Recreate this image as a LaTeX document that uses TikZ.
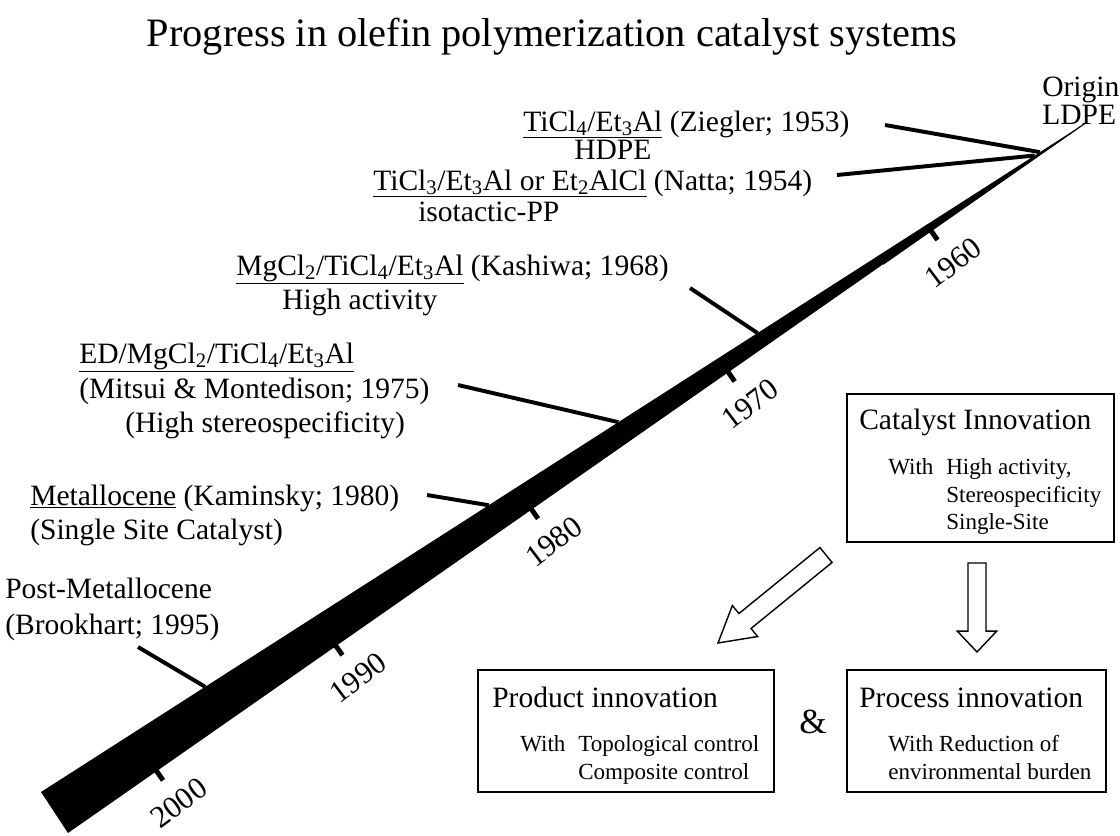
\documentclass[tikz,border=0pt]{standalone}
\usepackage{fontspec}
\setmainfont{Liberation Serif}
\usetikzlibrary{calc,fit,positioning}
\tikzset{every node/.append style={inner sep=0pt}}
\tikzset{
  lbl/.style={font=\fontsize{21}{25}\selectfont, anchor=base west},
  boxtxt/.style={font=\fontsize{16.4}{19}\selectfont, anchor=base west},
  leader/.style={line width=2.8pt},
  yearlbl/.style={font=\fontsize{22}{24}\selectfont, rotate=37},
  innobox/.style={draw, line width=1pt},
  hollow/.style={draw, line width=1pt, fill=white, line join=miter}
}
\newcommand{\chsub}[1]{\textsubscript{#1}}

\begin{document}
\begin{tikzpicture}[x=0.025cm, y=-0.025cm]
  \useasboundingbox (0,0) rectangle (1120,836);

  \node[font=\fontsize{28.7}{32}\selectfont, anchor=base] (title) at (552,46)
    {Progress in olefin polymerization catalyst systems};

  % the time bar
  \coordinate (tip) at (1087,122);
  \coordinate (ul) at (41,792);
  \coordinate (ll) at (68,833);
  \fill (tip) -- (ul) -- (ll) -- cycle;
  \draw[line width=0.8pt] (tip) -- ($(tip)!0.2!(ll)$);

  \foreach \yr/\f in {1960/0.153, 1970/0.352, 1980/0.545, 1990/0.737, 2000/0.913}{
    \coordinate (t\yr) at ($(tip)!\f!(ll)$);
    \draw[line width=3.5pt] ($(t\yr)!0.05cm!90:(tip)$) -- ($(t\yr)!0.28cm!-90:(tip)$);
    \node[yearlbl] (y\yr) at ($(t\yr)!0.97cm!-90:(tip)$) {\yr};
  }

  % leaders from the labels to the bar
  \foreach \nm/\x/\y/\f in {zg/885/125/0.045, nt/837/175/0.05, ks/690/288/0.315,
                            mt/458/385/0.448, km/427/495/0.572, bk/138/647/0.843}{
    \coordinate (\nm) at (\x,\y);
    \coordinate (\nm b) at ($(tip)!\f!(ul)$);
    \draw[leader] (\nm) -- (\nm b);
  }

  \node[lbl] (orig) at (1042,96) {Origin};
  \node[lbl] (ldpe) at (1042,124) {LDPE};
  \node[lbl] (zieg) at (523,131) {\underline{TiCl\chsub{4}/Et\chsub{3}Al} (Ziegler; 1953)};
  \node[lbl] (hdpe) at (574,159) {HDPE};
  \node[lbl] (natta) at (373,190) {\underline{TiCl\chsub{3}/Et\chsub{3}Al or Et\chsub{2}AlCl} (Natta; 1954)};
  \node[lbl] (ipp) at (418,221) {isotactic-PP};
  \node[lbl] (kash) at (236,275) {\underline{MgCl\chsub{2}/TiCl\chsub{4}/Et\chsub{3}Al} (Kashiwa; 1968)};
  \node[lbl] (hact) at (282,309) {High activity};
  \node[lbl] (edmg) at (79,363) {\underline{ED/MgCl\chsub{2}/TiCl\chsub{4}/Et\chsub{3}Al}};
  \node[lbl] (mits) at (79,398) {(Mitsui \& Montedison; 1975)};
  \node[lbl] (hster) at (125,432) {(High stereospecificity)};
  \node[lbl] (metal) at (30,505) {\underline{Metallocene} (Kaminsky; 1980)};
  \node[lbl] (ssc) at (30,539) {(Single Site Catalyst)};
  \node[lbl] (post) at (5,598) {Post-Metallocene};
  \node[lbl] (brook) at (5,634) {(Brookhart; 1995)};

  % innovation boxes
  \node[innobox, fit={(847,394) (1114,542)}] (catbox) {};
  \node[innobox, fit={(478,670) (774,792)}] (prodbox) {};
  \node[innobox, fit={(847,670) (1106,792)}] (procbox) {};

  \node[lbl] (cattitle) at (859,429) {Catalyst Innovation};
  \node[boxtxt] (catwith) at (888,474) {With};
  \node[boxtxt] (cat1) at (946,474) {High activity,};
  \node[boxtxt] (cat2) at (946,502) {Stereospecificity};
  \node[boxtxt] (cat3) at (946,529) {Single-Site};

  \node[lbl] (prodtitle) at (492,707) {Product innovation};
  \node[boxtxt] (prodwith) at (520,751) {With};
  \node[boxtxt] (prod1) at (578,751) {Topological control};
  \node[boxtxt] (prod2) at (578,779) {Composite control};

  \node[lbl] (proctitle) at (859,707) {Process innovation};
  \node[boxtxt] (proc1) at (888,751) {With Reduction of};
  \node[boxtxt] (proc2) at (888,779) {environmental burden};

  \node[font=\fontsize{25}{28}\selectfont] (amp) at (813,722) {\&};

  % hollow arrows
  \coordinate (da) at (826,555);
  \coordinate (db) at (718,643);
  \coordinate (dh) at ($(db)!0.87cm!(da)$);
  \draw[hollow] ($(da)!0.24cm!90:(db)$) -- ($(dh)!0.24cm!90:(db)$) -- ($(dh)!0.5cm!90:(db)$)
    -- (db) -- ($(dh)!0.5cm!-90:(db)$) -- ($(dh)!0.24cm!-90:(db)$) -- ($(da)!0.24cm!-90:(db)$) -- cycle;

  \coordinate (pa) at (977,563);
  \coordinate (pb) at (977,652);
  \coordinate (ph) at ($(pb)!0.52cm!(pa)$);
  \draw[hollow] ($(pa)!0.225cm!90:(pb)$) -- ($(ph)!0.225cm!90:(pb)$) -- ($(ph)!0.49cm!90:(pb)$)
    -- (pb) -- ($(ph)!0.49cm!-90:(pb)$) -- ($(ph)!0.225cm!-90:(pb)$) -- ($(pa)!0.225cm!-90:(pb)$) -- cycle;
\end{tikzpicture}
\end{document}
